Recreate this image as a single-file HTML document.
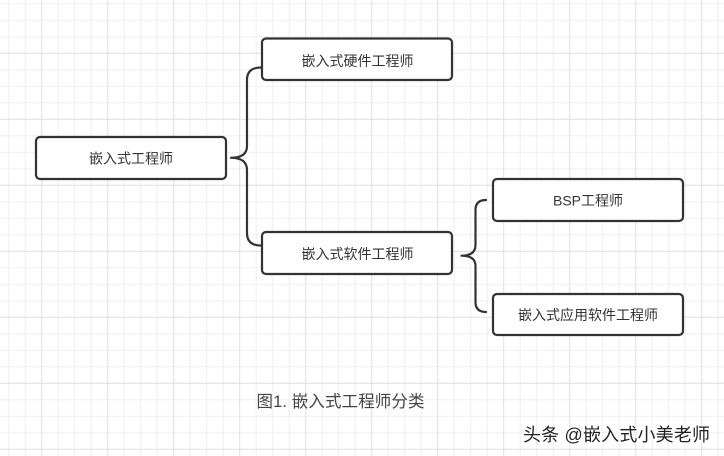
<!DOCTYPE html>
<html>
<head>
<meta charset="utf-8">
<style>
  html,body{margin:0;padding:0;background:#fff;}
  body{width:724px;height:456px;overflow:hidden;}
  svg{display:block;}
  .t{font-family:"Liberation Sans","Noto Sans CJK SC",sans-serif;font-size:14px;fill:#333;}
</style>
</head>
<body>
<svg width="724" height="456" viewBox="0 0 724 456" xmlns="http://www.w3.org/2000/svg">
  <defs>
    <pattern id="grid" patternUnits="userSpaceOnUse" width="66" height="66" x="33.45" y="45.05">
      <line x1="24.75" y1="0" x2="24.75" y2="66" stroke="#efefef" stroke-width="1"/>
      <line x1="41.25" y1="0" x2="41.25" y2="66" stroke="#efefef" stroke-width="1"/>
      <line x1="57.75" y1="0" x2="57.75" y2="66" stroke="#efefef" stroke-width="1"/>
      <line x1="0" y1="24.75" x2="66" y2="24.75" stroke="#efefef" stroke-width="1"/>
      <line x1="0" y1="41.25" x2="66" y2="41.25" stroke="#efefef" stroke-width="1"/>
      <line x1="0" y1="57.75" x2="66" y2="57.75" stroke="#efefef" stroke-width="1"/>
      <line x1="8.25" y1="0" x2="8.25" y2="66" stroke="#dedede" stroke-width="1"/>
      <line x1="0" y1="8.25" x2="66" y2="8.25" stroke="#dedede" stroke-width="1"/>
    </pattern>
  </defs>
  <rect x="0" y="0" width="724" height="456" fill="#ffffff"/>
  <rect x="0" y="0" width="724" height="456" fill="url(#grid)"/>

  <!-- braces -->
  <path d="M261,67.5 Q247,67.5 247,80 L247,146 Q247,157.8 231,157.8 Q247,157.8 247,170 L247,233 Q247,245.5 261,245.5"
        fill="none" stroke="#333" stroke-width="2.2" stroke-linecap="round" stroke-linejoin="round"/>
  <path d="M486,200 Q475.5,200 475.5,210 L475.5,245 Q475.5,255.7 461.5,255.7 Q475.5,255.7 475.5,266 L475.5,302 Q475.5,312 486,312"
        fill="none" stroke="#333" stroke-width="2.2" stroke-linecap="round" stroke-linejoin="round"/>

  <!-- boxes -->
  <rect x="36" y="137" width="190" height="42" rx="4" ry="4" fill="#fff" stroke="#333" stroke-width="2.2"/>
  <rect x="262" y="38.5" width="190" height="41.5" rx="4" ry="4" fill="#fff" stroke="#333" stroke-width="2.2"/>
  <rect x="262" y="232" width="190" height="42" rx="4" ry="4" fill="#fff" stroke="#333" stroke-width="2.2"/>
  <rect x="493" y="179" width="190" height="42" rx="4" ry="4" fill="#fff" stroke="#333" stroke-width="2.2"/>
  <rect x="493" y="294" width="190" height="41" rx="4" ry="4" fill="#fff" stroke="#333" stroke-width="2.2"/>

  <!-- labels -->
  <text class="t" x="131" y="158.5" text-anchor="middle" dominant-baseline="central">嵌入式工程师</text>
  <text class="t" x="357.5" y="61" text-anchor="middle" dominant-baseline="central">嵌入式硬件工程师</text>
  <text class="t" x="357.5" y="254" text-anchor="middle" dominant-baseline="central">嵌入式软件工程师</text>
  <text class="t" x="588" y="200.5" text-anchor="middle" dominant-baseline="central">BSP工程师</text>
  <text class="t" x="588" y="315" text-anchor="middle" dominant-baseline="central">嵌入式应用软件工程师</text>

  <!-- caption -->
  <text x="256.5" y="402" dominant-baseline="central" font-family="Liberation Sans, Noto Sans CJK SC, sans-serif" font-size="16.5" fill="#444" textLength="168" lengthAdjust="spacing">图1. 嵌入式工程师分类</text>

  <!-- watermark -->
  <text x="523" y="435" dominant-baseline="central" font-family="Liberation Sans, Noto Sans CJK SC, sans-serif" font-size="18" fill="#222" stroke="#fff" stroke-width="2.5" paint-order="stroke" textLength="187" lengthAdjust="spacing">头条 @嵌入式小美老师</text>
</svg>
</body>
</html>
